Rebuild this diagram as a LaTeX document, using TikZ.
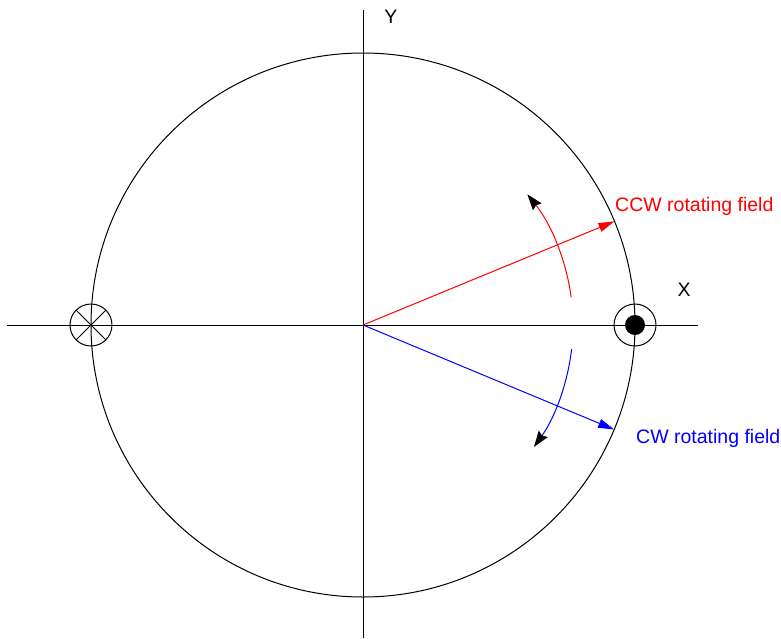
\documentclass[tikz,border=0pt]{standalone}
\usepackage{fontspec}
\setmainfont{Liberation Sans}
\usetikzlibrary{arrows.meta, positioning}
\definecolor{ccwred}{HTML}{FF0000}
\definecolor{cwblue}{HTML}{0000FF}

\tikzset{
	axis/.style={line width=1pt},
	vec/.style={line width=1pt, -{Triangle[length=16pt, width=9pt]}},
	turn/.style={line width=1pt, -{Stealth[length=16pt, width=11pt, inset=2pt, black]}},
	lbl/.style={font=\fontsize{19.5}{23}\selectfont, inner sep=0pt, anchor=west},
	pole/.style={circle, draw, line width=1pt, minimum size=42pt, inner sep=0pt}
}

\begin{document}
\begin{tikzpicture}[x=1pt, y=1pt]
				\useasboundingbox (-363,-313) rectangle (418,325);
				% axes
				\coordinate (O) at (0,0);
				\coordinate (xl) at (-356,0);
				\coordinate (xr) at (335,0);
				\coordinate (yt) at (0,315);
				\coordinate (yb) at (0,-313);
				\draw[axis] (xl) -- (xr);
				\draw[axis] (yt) -- (yb);
				\node[lbl, anchor=center] (xname) at (321,35) {X};
				\node[lbl, anchor=center] (yname) at (28,308) {Y};
				% rotor circle
				\draw[axis] (O) circle (272);
				% conductors
				\node[pole] (into) at (-272,0) {};
				\draw[axis] (into.north west) -- (into.south east);
				\draw[axis] (into.south west) -- (into.north east);
				\node[pole] (outof) at (272,0) {};
				\fill (outof) circle (10);
				% fields
				\coordinate (ccwtip) at (22.4:272);
				\coordinate (cwtip) at (-22.6:272);
				\draw[vec, ccwred] (O) -- (ccwtip);
				\draw[vec, cwblue] (O) -- (cwtip);
				\node[lbl, text=ccwred] (ccwname) at (252,119) {CCW rotating field};
				\node[lbl, text=cwblue] (cwname) at (273,-113) {CW rotating field};
				% direction of rotation
				\coordinate (ccwstart) at (7.6:210);
				\coordinate (cwstart) at (-6.6:210);
				\draw[turn, ccwred] (ccwstart) arc[start angle=7.6, end angle=38.5, radius=210];
				\draw[turn, cwblue] (cwstart) arc[start angle=-6.6, end angle=-35.5, radius=210];
			\end{tikzpicture}
\end{document}
